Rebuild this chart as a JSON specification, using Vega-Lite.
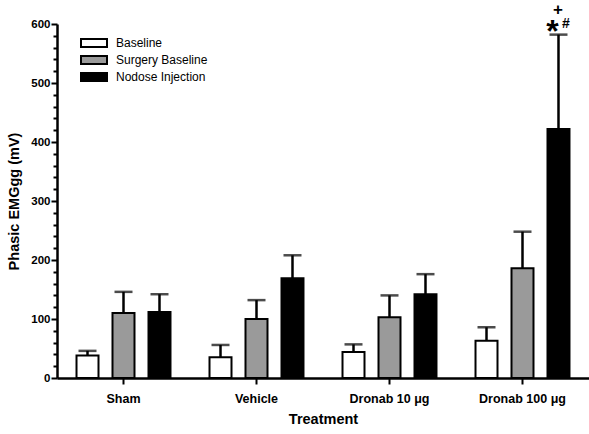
{
  "$schema": "https://vega.github.io/schema/vega-lite/v6.json",
  "width": 532,
  "height": 354,
  "autosize": {"type": "none"},
  "padding": {"left": 57, "top": 24, "right": 0, "bottom": 56},
  "background": "white",
  "config": {"font": "Liberation Sans", "view": {"stroke": null}},
  "data": {
    "values": [
      {"treatment": "Sham", "condition": "Baseline", "mean": 38, "upper": 46},
      {"treatment": "Sham", "condition": "Surgery Baseline", "mean": 110, "upper": 146},
      {"treatment": "Sham", "condition": "Nodose Injection", "mean": 112, "upper": 142},
      {"treatment": "Vehicle", "condition": "Baseline", "mean": 35, "upper": 56},
      {"treatment": "Vehicle", "condition": "Surgery Baseline", "mean": 100, "upper": 132},
      {"treatment": "Vehicle", "condition": "Nodose Injection", "mean": 169, "upper": 208},
      {"treatment": "Dronab 10 μg", "condition": "Baseline", "mean": 44, "upper": 57},
      {"treatment": "Dronab 10 μg", "condition": "Surgery Baseline", "mean": 103, "upper": 140},
      {"treatment": "Dronab 10 μg", "condition": "Nodose Injection", "mean": 142, "upper": 176},
      {"treatment": "Dronab 100 μg", "condition": "Baseline", "mean": 63, "upper": 86},
      {"treatment": "Dronab 100 μg", "condition": "Surgery Baseline", "mean": 186, "upper": 248},
      {"treatment": "Dronab 100 μg", "condition": "Nodose Injection", "mean": 422, "upper": 582}
    ]
  },
  "encoding": {
    "x": {
      "field": "treatment",
      "type": "nominal",
      "sort": ["Sham", "Vehicle", "Dronab 10 μg", "Dronab 100 μg"],
      "scale": {"paddingInner": 0, "paddingOuter": 0},
      "axis": {
        "title": "Treatment",
        "titleFontSize": 14.5,
        "titleFontWeight": "bold",
        "titleColor": "black",
        "titlePadding": 8,
        "labelAngle": 0,
        "labelFontSize": 12.5,
        "labelFontWeight": "bold",
        "labelColor": "black",
        "labelPadding": 8,
        "domainColor": "black",
        "domainWidth": 2.5,
        "tickColor": "black",
        "tickWidth": 2,
        "tickSize": 6,
        "grid": false
      }
    },
    "xOffset": {
      "field": "condition",
      "sort": ["Baseline", "Surgery Baseline", "Nodose Injection"],
      "scale": {"paddingInner": 0.389, "paddingOuter": 0.542}
    }
  },
  "layer": [
    {
      "mark": {"type": "rule", "strokeWidth": 2.5, "color": "black"},
      "encoding": {
        "y": {
          "field": "mean",
          "type": "quantitative",
          "scale": {"domain": [0, 600]},
          "axis": {
            "title": "Phasic EMGgg (mV)",
            "titleFontSize": 14.5,
            "titleFontWeight": "bold",
            "titleColor": "black",
            "titlePadding": 9,
            "values": [0, 20, 40, 60, 80, 100, 120, 140, 160, 180, 200, 220, 240, 260, 280, 300, 320, 340, 360, 380, 400, 420, 440, 460, 480, 500, 520, 540, 560, 580, 600],
            "tickCount": 100,
            "labelExpr": "datum.value % 100 === 0 ? datum.label : ''",
            "tickSize": 6,
            "tickDash": {"condition": {"test": "datum.value % 100 === 0", "value": [10, 0]}, "value": [4, 10]},
            "labelFontSize": 11.5,
            "labelFontWeight": "bold",
            "labelColor": "black",
            "labelPadding": 1,
            "labelOverlap": false,
            "domainColor": "black",
            "domainWidth": 2.5,
            "tickColor": "black",
            "tickWidth": 2,
            "grid": false
          }
        },
        "y2": {"field": "upper"}
      }
    },
    {
      "mark": {"type": "tick", "thickness": 2.5, "size": 18, "color": "black"},
      "encoding": {"y": {"field": "upper", "type": "quantitative"}}
    },
    {
      "mark": {"type": "bar", "stroke": "black", "strokeWidth": 2},
      "encoding": {
        "y": {"field": "mean", "type": "quantitative"},
        "fill": {
          "field": "condition",
          "type": "nominal",
          "scale": {
            "domain": ["Baseline", "Surgery Baseline", "Nodose Injection"],
            "range": ["white", "#9a9a9a", "black"]
          },
          "legend": {
            "title": null,
            "orient": "none",
            "legendX": 31,
            "legendY": 13,
            "padding": 0,
            "symbolType": "M-2.6,-0.8H2.6V0.8H-2.6Z",
            "symbolSize": 100,
            "symbolStrokeColor": "black",
            "symbolStrokeWidth": 2,
            "labelFontSize": 12,
            "labelColor": "black",
            "labelOffset": 16,
            "rowPadding": 1,
            "encode": {
              "symbols": {"update": {"stroke": {"value": "black"}, "strokeWidth": {"value": 2}, "opacity": {"value": 1}}}
            }
          }
        }
      }
    },
    {
      "data": {"values": [{"treatment": "Dronab 100 μg", "condition": "Nodose Injection", "upper": 582, "sym": "*"}]},
      "mark": {"type": "text", "fontSize": 32, "fontWeight": "bold", "color": "black", "align": "center", "baseline": "alphabetic", "dx": -6, "dy": 7},
      "encoding": {"y": {"field": "upper", "type": "quantitative"}, "text": {"field": "sym"}}
    },
    {
      "data": {"values": [{"treatment": "Dronab 100 μg", "condition": "Nodose Injection", "upper": 582, "sym": "#"}]},
      "mark": {"type": "text", "fontSize": 14, "fontWeight": "bold", "color": "black", "align": "center", "baseline": "alphabetic", "dx": 7.5, "dy": -7},
      "encoding": {"y": {"field": "upper", "type": "quantitative"}, "text": {"field": "sym"}}
    },
    {
      "data": {"values": [{"treatment": "Dronab 100 μg", "condition": "Nodose Injection", "upper": 582, "sym": "+"}]},
      "mark": {"type": "text", "fontSize": 17, "fontWeight": "bold", "color": "black", "align": "center", "baseline": "alphabetic", "dx": -0.5, "dy": -20},
      "encoding": {"y": {"field": "upper", "type": "quantitative"}, "text": {"field": "sym"}}
    }
  ]
}
